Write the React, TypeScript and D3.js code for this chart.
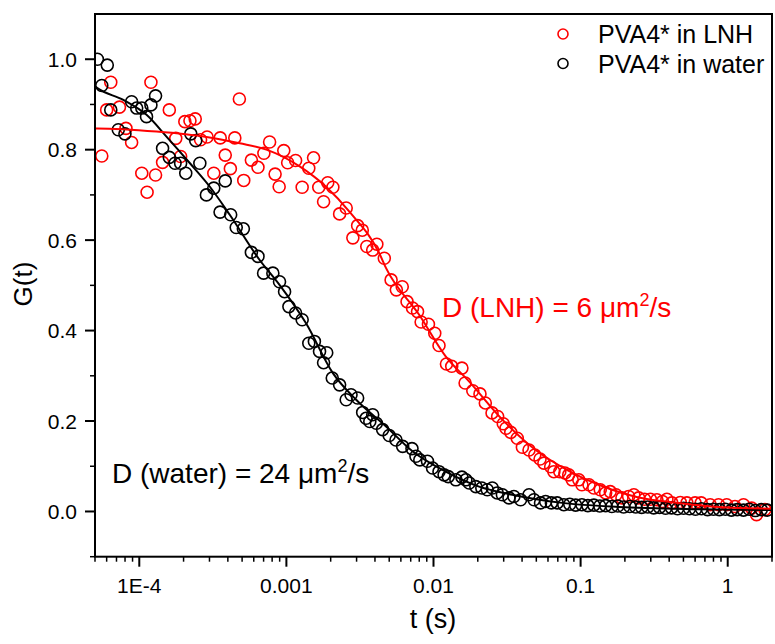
import React from "react";
import * as d3 from "d3";

// ---- Data ----
const waterT = [
  5.19e-5, 5.56e-5, 6.06e-5, 6.4e-5, 7.2e-5, 7.99e-5, 8.87e-5, 9.6e-5, 1.04e-4, 1.12e-4,
  1.2e-4, 1.29e-4, 1.44e-4, 1.6e-4, 1.75e-4, 1.91e-4, 2.07e-4, 2.24e-4, 2.42e-4, 2.58e-4,
  2.86e-4, 3.21e-4, 3.54e-4, 3.84e-4, 4.18e-4, 4.56e-4, 5.1e-4, 5.78e-4, 6.41e-4, 7.0e-4,
  8.09e-4, 8.98e-4, 9.72e-4, 1.04e-3, 1.155e-3, 1.28e-3, 1.42e-3, 1.55e-3, 1.68e-3, 1.79e-3,
  1.88e-3, 2.05e-3, 2.3e-3, 2.55e-3, 2.75e-3, 3.05e-3, 3.3e-3, 3.48e-3, 3.69e-3, 3.86e-3,
  4.09e-3, 4.51e-3, 5.0e-3, 5.56e-3, 6.17e-3, 7.14e-3, 7.6e-3, 8.07e-3, 9.1e-3, 9.85e-3,
  1.09e-2, 1.18e-2, 1.26e-2, 1.42e-2, 1.56e-2, 1.66e-2, 1.75e-2, 1.94e-2, 2.13e-2, 2.32e-2,
  2.51e-2, 2.71e-2, 2.94e-2, 3.26e-2, 3.52e-2, 3.91e-2, 4.46e-2, 4.82e-2, 5.34e-2, 5.78e-2,
  6.33e-2, 6.93e-2, 7.69e-2, 8.44e-2, 9.25e-2, 0.102, 0.112, 0.123, 0.135, 0.148,
  0.163, 0.179, 0.196, 0.216, 0.237, 0.26, 0.286, 0.314, 0.344, 0.378,
  0.415, 0.456, 0.501, 0.55, 0.604, 0.663, 0.729, 0.8, 0.878, 0.964,
  1.06, 1.16, 1.28, 1.4, 1.54, 1.69, 1.86,
];
const waterG = [
  1.0, 0.942, 0.987, 0.888, 0.844, 0.835, 0.906, 0.892, 0.892, 0.873,
  0.899, 0.919, 0.803, 0.783, 0.77, 0.77, 0.748, 0.835, 0.82, 0.77,
  0.7, 0.715, 0.662, 0.731, 0.656, 0.628, 0.625, 0.573, 0.564, 0.527,
  0.527, 0.508, 0.486, 0.453, 0.439, 0.424, 0.372, 0.376, 0.354, 0.329,
  0.351, 0.295, 0.28, 0.247, 0.258, 0.251, 0.219, 0.206, 0.199, 0.214,
  0.195, 0.181, 0.168, 0.158, 0.144, 0.139, 0.122, 0.114, 0.111, 0.096,
  0.088, 0.081, 0.077, 0.07, 0.076, 0.07, 0.063, 0.055, 0.052, 0.048,
  0.052, 0.041, 0.037, 0.03, 0.033, 0.026, 0.037, 0.026, 0.019, 0.022,
  0.019, 0.019, 0.015, 0.016, 0.014, 0.015, 0.013, 0.014, 0.012, 0.013,
  0.011, 0.012, 0.01, 0.011, 0.01, 0.009, 0.01, 0.008, 0.009, 0.007,
  0.008, 0.006, 0.007, 0.006, 0.005, 0.006, 0.004, 0.005, 0.004, 0.005,
  0.003, 0.004, 0.003, 0.005, 0.002, 0.004, 0.003,
];

const lnhT = [
  5.56e-5, 6.0e-5, 6.4e-5, 7.33e-5, 8.12e-5, 8.87e-5, 1.04e-4, 1.13e-4, 1.2e-4, 1.29e-4,
  1.44e-4, 1.6e-4, 1.77e-4, 1.91e-4, 2.04e-4, 2.21e-4, 2.4e-4, 2.61e-4, 2.89e-4, 3.21e-4,
  3.55e-4, 3.84e-4, 4.16e-4, 4.46e-4, 4.79e-4, 5.13e-4, 5.78e-4, 6.41e-4, 7.03e-4, 7.69e-4,
  8.38e-4, 8.93e-4, 9.6e-4, 1.02e-3, 1.155e-3, 1.28e-3, 1.42e-3, 1.53e-3, 1.66e-3, 1.79e-3,
  1.91e-3, 2.07e-3, 2.3e-3, 2.55e-3, 2.83e-3, 3.05e-3, 3.28e-3, 3.52e-3, 3.86e-3, 4.12e-3,
  4.63e-3, 5.15e-3, 5.59e-3, 6.13e-3, 6.61e-3, 7.2e-3, 7.79e-3, 8.24e-3, 9.24e-3, 1.02e-2,
  1.09e-2, 1.225e-2, 1.33e-2, 1.56e-2, 1.64e-2, 1.85e-2, 2.07e-2, 2.25e-2, 2.5e-2, 2.73e-2,
  2.98e-2, 3.11e-2, 3.35e-2, 3.71e-2, 4.02e-2, 4.46e-2, 4.88e-2, 5.3e-2, 5.63e-2, 6.26e-2,
  6.58e-2, 7.22e-2, 7.82e-2, 8.3e-2, 8.77e-2, 9.72e-2, 0.102, 0.114, 0.123, 0.136,
  0.148, 0.159, 0.174, 0.191, 0.212, 0.23, 0.248, 0.272, 0.298, 0.33,
  0.36, 0.386, 0.417, 0.476, 0.528, 0.6, 0.66, 0.76, 0.866, 0.984,
  1.12, 1.28, 1.455, 1.57, 1.79,
];
const lnhG = [
  0.786, 0.888, 0.949, 0.894, 0.847, 0.816, 0.748, 0.706, 0.949, 0.744,
  0.772, 0.888, 0.825, 0.785, 0.862, 0.864, 0.868, 0.822, 0.828, 0.748,
  0.826, 0.788, 0.758, 0.826, 0.912, 0.732, 0.777, 0.761, 0.792, 0.817,
  0.746, 0.718, 0.798, 0.771, 0.776, 0.717, 0.759, 0.782, 0.717, 0.685,
  0.727, 0.717, 0.658, 0.671, 0.605, 0.632, 0.622, 0.586, 0.578, 0.591,
  0.56, 0.512, 0.49, 0.497, 0.464, 0.45, 0.442, 0.419, 0.414, 0.394,
  0.367, 0.326, 0.321, 0.317, 0.284, 0.267, 0.26, 0.24, 0.218, 0.21,
  0.194, 0.184, 0.175, 0.162, 0.142, 0.136, 0.125, 0.116, 0.107, 0.099,
  0.088, 0.088, 0.085, 0.081, 0.07, 0.07, 0.059, 0.059, 0.052, 0.048,
  0.041, 0.044, 0.037, 0.03, 0.033, 0.037, 0.03, 0.027, 0.027, 0.026,
  0.022, 0.027, 0.019, 0.02, 0.019, 0.019, 0.019, 0.015, 0.015, 0.015,
  0.011, 0.015, 0.0075, -0.007, 0.004,
];

// fitted curves
const waterFitT = [5e-5, 5.19e-5, 7.79e-5, 1.12e-4, 1.53e-4, 2.21e-4, 3.02e-4, 4.12e-4, 6.58e-4, 8.98e-4, 1.36e-3, 2.07e-3, 2.98e-3, 4.76e-3, 7.2e-3, 1.21e-2, 2.04e-2, 3.43e-2, 7.5e-2, 0.182, 0.632, 2];
const waterFitG = [0.94, 0.936, 0.91, 0.877, 0.829, 0.77, 0.718, 0.656, 0.556, 0.501, 0.416, 0.306, 0.247, 0.188, 0.133, 0.088, 0.055, 0.037, 0.019, 0.01, 0.005, 0.003];
const lnhFitT = [5e-5, 5.19e-5, 1.31e-4, 2.86e-4, 4.82e-4, 7.31e-4, 1.23e-3, 1.86e-3, 2.68e-3, 4.28e-3, 4.76e-3, 7.99e-3, 1.21e-2, 1.75e-2, 2.94e-2, 4.95e-2, 8.3e-2, 0.133, 0.248, 0.463, 0.866, 2];
const lnhFitG = [0.847, 0.847, 0.84, 0.828, 0.814, 0.8, 0.763, 0.718, 0.663, 0.571, 0.538, 0.435, 0.343, 0.287, 0.203, 0.136, 0.09, 0.059, 0.031, 0.019, 0.01, 0.006];

const xMajorTicks = [1e-4, 1e-3, 1e-2, 0.1, 1];
const xTickLabels = ["1E-4", "0.001", "0.01", "0.1", "1"];
const yMajorTicks = [0, 0.2, 0.4, 0.6, 0.8, 1.0];
const yMinorTicks = [-0.1, 0.1, 0.3, 0.5, 0.7, 0.9];

const seriesNames = ["PVA4* in LNH", "PVA4* in water"];
const seriesColors = ["#ff0000", "#000000"];

const FONT = "'Liberation Sans', Arial, Helvetica, sans-serif";

export default function App() {
  const W = 775, H = 644;
  const left = 95, right = 772, top = 14, bottom = 556.7;
  const x = d3.scaleLog().domain([5e-5, 2]).range([left, right]);
  const y = d3.scaleLinear().domain([-0.1, 1.1]).range([bottom, top]);

  const minorX: number[] = [];
  for (let e = -5; e <= 0; e++) {
    for (let m = 2; m <= 9; m++) {
      const v = m * Math.pow(10, e);
      if (v >= 5e-5 - 1e-12 && v <= 2 + 1e-9) minorX.push(v);
    }
  }

  const line = d3
    .line<[number, number]>()
    .x((d) => x(d[0]))
    .y((d) => y(d[1]))
    .curve(d3.curveMonotoneX);

  const waterPts = waterT.map((t, i) => [t, waterG[i]] as [number, number]);
  const lnhPts = lnhT.map((t, i) => [t, lnhG[i]] as [number, number]);
  const waterFit = waterFitT.map((t, i) => [t, waterFitG[i]] as [number, number]);
  const lnhFit = lnhFitT.map((t, i) => [t, lnhFitG[i]] as [number, number]);

  const r = 6;

  return (
    <svg
      width={W}
      height={H}
      style={{ position: "absolute", left: 0, top: 0, background: "#fff" }}
      fontFamily={FONT}
    >
      <rect x={0} y={0} width={W} height={H} fill="#fff" />
      <defs>
        <clipPath id="plotClip">
          <rect x={left} y={top} width={right - left} height={bottom - top} />
        </clipPath>
      </defs>

      {/* data */}
      <g clipPath="url(#plotClip)">
        {lnhPts.map((d, i) => (
          <circle key={"r" + i} cx={x(d[0])} cy={y(d[1])} r={r} fill="none" stroke={seriesColors[0]} strokeWidth={1.6} />
        ))}
        {waterPts.map((d, i) => (
          <circle key={"b" + i} cx={x(d[0])} cy={y(d[1])} r={r} fill="none" stroke={seriesColors[1]} strokeWidth={1.6} />
        ))}
        <path d={line(waterFit) || ""} fill="none" stroke={seriesColors[1]} strokeWidth={2} />
        <path d={line(lnhFit) || ""} fill="none" stroke={seriesColors[0]} strokeWidth={2} />
      </g>

      {/* frame */}
      <rect x={left} y={top} width={right - left} height={bottom - top} fill="none" stroke="#000" strokeWidth={2} />

      {/* x ticks */}
      {xMajorTicks.map((v, i) => (
        <g key={"xt" + i}>
          <line x1={x(v)} x2={x(v)} y1={bottom} y2={bottom + 10} stroke="#000" strokeWidth={2} />
          <text x={x(v)} y={593} textAnchor="middle" fontSize={21} fill="#000">
            {xTickLabels[i]}
          </text>
        </g>
      ))}
      {minorX.map((v, i) => (
        <line key={"xm" + i} x1={x(v)} x2={x(v)} y1={bottom} y2={bottom + 5} stroke="#000" strokeWidth={1.5} />
      ))}

      {/* y ticks */}
      {yMajorTicks.map((v, i) => (
        <g key={"yt" + i}>
          <line x1={left - 10} x2={left} y1={y(v)} y2={y(v)} stroke="#000" strokeWidth={2} />
          <text x={77} y={y(v)} dy="0.36em" textAnchor="end" fontSize={21} fill="#000">
            {v.toFixed(1)}
          </text>
        </g>
      ))}
      {yMinorTicks.map((v, i) => (
        <line key={"ym" + i} x1={left - 5} x2={left} y1={y(v)} y2={y(v)} stroke="#000" strokeWidth={1.5} />
      ))}

      {/* axis titles */}
      <text x={433} y={628} textAnchor="middle" fontSize={27} fill="#000">
        t (s)
      </text>
      <text transform="translate(32,284) rotate(-90)" textAnchor="middle" fontSize={26} fill="#000">
        G(t)
      </text>

      {/* annotations */}
      <text x={442} y={316.5} fontSize={28} fill="#ff0000">
        D (LNH) = 6 μm
        <tspan dy={-11} fontSize={18}>2</tspan>
        <tspan dy={11}>/s</tspan>
      </text>
      <text x={112} y={483.3} fontSize={28} fill="#000">
        D (water) = 24 μm
        <tspan dy={-11} fontSize={18}>2</tspan>
        <tspan dy={11}>/s</tspan>
      </text>

      {/* legend */}
      {seriesNames.map((name, i) => (
        <g key={"lg" + i}>
          <circle cx={563} cy={34 + i * 29.5} r={5} fill="none" stroke={seriesColors[i]} strokeWidth={1.6} />
          <text x={598} y={43.3 + i * 29.4} fontSize={25} fill="#000">
            {name}
          </text>
        </g>
      ))}
    </svg>
  );
}
